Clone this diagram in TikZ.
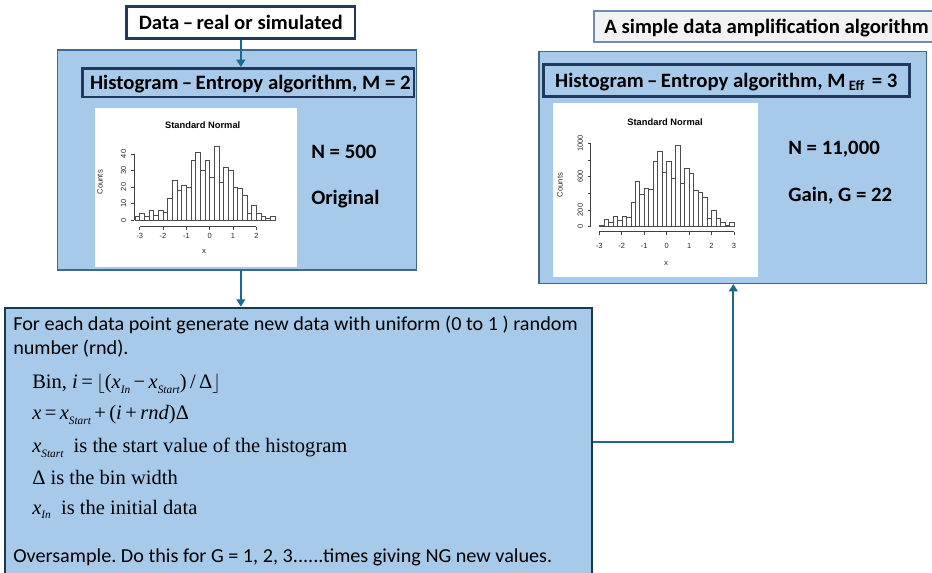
\documentclass[tikz,border=0pt]{standalone}
\usepackage{fontspec}
\setmainfont[FakeStretch=1.02]{Carlito}
\newfontfamily\tms{Liberation Serif}
\newfontfamily\plotfont{Liberation Sans}
\usetikzlibrary{fit,arrows.meta}
\definecolor{boxfill}{RGB}{167,201,234}
\definecolor{bigborder}{RGB}{64,104,136}
\definecolor{navy}{RGB}{31,58,92}
\definecolor{algoborder}{RGB}{23,56,77}
\definecolor{arrowc}{RGB}{31,105,144}
\definecolor{greyfill}{RGB}{242,242,242}
\definecolor{greyborder}{RGB}{110,139,181}
\newcommand{\sbi}[1]{\raisebox{-3.2pt}{\fontsize{8.5}{9}\selectfont\itshape #1}}
\frenchspacing
\begin{document}
\begin{tikzpicture}[x=0.75pt,y=-0.75pt,
  bigbox/.style={draw=bigborder, fill=boxfill, line width=1pt, inner sep=0pt},
  titlebox/.style={draw=navy, fill=boxfill, line width=1.9pt, inner sep=0pt},
  databox/.style={draw=navy, fill=white, line width=1.9pt, inner sep=0pt},
  ttxt/.style={inner sep=0pt, anchor=center, text height=9.85pt, text depth=0pt,
    font=\bfseries\fontsize{15.3}{18}\selectfont},
  algobox/.style={draw=algoborder, fill=boxfill, line width=1.5pt, inner sep=0pt},
  plotbg/.style={fill=white, draw=none, inner sep=0pt},
  txt/.style={inner sep=0pt, anchor=base west, font=\fontsize{14.85}{18}\selectfont},
  btxt/.style={inner sep=0pt, anchor=base west, font=\bfseries\fontsize{15.3}{18}\selectfont},
  mtxt/.style={inner sep=0pt, anchor=base west, font=\tms\fontsize{15.4}{18}\selectfont},
  arr/.style={draw=arrowc, line width=1.5pt, -{Triangle[length=5.5pt,width=6.5pt]}},
  bar/.style={draw=black!70, fill=white, line width=0.35pt},
  axis/.style={draw=black!75, line width=0.4pt},
  ptick/.style={font=\plotfont\fontsize{5.6}{6}\selectfont, inner sep=0pt, text=black!85},
  ptitle/.style={font=\plotfont\bfseries\fontsize{7}{8}\selectfont, inner sep=0pt, anchor=base},
  plabel/.style={font=\plotfont\fontsize{5.8}{6}\selectfont, inner sep=0pt, text=black!85}
]
\clip (0,0) rectangle (932,573);

% ---------- top left ----------
\node[databox, fit={(126.7,6.7) (355,38.3)}] (data) {};
\node[ttxt] (datat) at (data.center) {Data\,--\,real or simulated};
\node[bigbox, fit={(57.7,50) (416.7,270)}] (histL) {};
\node[titlebox, fit={(82.7,68.3) (414,97)}] (htitleL) {};
\node[ttxt] (htitleLt) at ([xshift=1.5pt]htitleL.center) {Histogram\,--\,Entropy algorithm, M = 2};
\node[plotbg, fit={(95,107.7) (297,267)}] (imgL) {};

% left histogram
\node[ptitle] (ttlL) at (202.7,129) {Standard Normal};
\foreach \c [count=\i from 0] in {2,4,2,6,3,6,5,13,24,18,21,20,36,41,30,36,26,45,23,32,30,20,19,15,4,9,4,2,1,2}
  \draw[bar] ({135.03+4.666*\i},220) rectangle ++(4.666,{-1.65*\c});
\draw[axis] (139.7,226.7) -- (256.3,226.7);
\foreach \v [count=\k] in {-3,-2,-1,0,1,2} {
  \draw[axis] ({209.69+23.33*\v},226.7) -- ++(0,3);
  \node[ptick] (lxl\k) at ({209.69+23.33*\v},236) {\v};
}
\draw[axis] (134,220) -- (134,154);
\foreach \c [count=\k] in {0,10,20,30,40} {
  \draw[axis] (134,{220-1.65*\c}) -- ++(-3,0);
  \node[ptick, rotate=90] (lyl\k) at (123.5,{220-1.65*\c}) {\c};
}
\node[plabel, rotate=90] (cntL) at (100,182.3) {Counts};
\node[plabel] (xL) at (204,251.7) {x};

\node[btxt] (n500) at (311,158.3) {N = 500};
\node[btxt] (origtxt) at (311,205) {Original};

% ---------- top right ----------
\node[fill=greyfill, draw=greyborder, line width=0.8pt, inner sep=0pt, fit={(594,11) (960,42)}] (simple) {};
\node[btxt] (simpletxt) at (604,33.5) {A simple data amplification algorithm};
\node[bigbox, fit={(539,51.7) (926.7,283.3)}] (amp) {};
\node[titlebox, fit={(543.3,64.3) (909.3,96.7)}] (htitleR) {};
\node[ttxt] (htitleRt) at (htitleR.center) {Histogram\,--\,Entropy algorithm, M\,\textsubscript{Eff}\,\,= 3};
\node[plotbg, fit={(553.3,103.3) (758.3,276.7)}] (imgR) {};

% right histogram
\node[ptitle] (ttlR) at (665,126) {Standard Normal};
\foreach \c [count=\i from 0] in {20,90,50,130,80,130,110,290,540,390,460,450,790,900,650,790,580,980,520,700,640,440,410,350,100,200,100,50,20,50}
  \draw[bar] ({599.3+4.49*\i},226.7) rectangle ++(4.49,{-0.0833*\c});
\draw[axis] (599.3,231.7) -- (734,231.7);
\foreach \v [count=\k] in {-3,-2,-1,0,1,2,3} {
  \draw[axis] ({666.65+22.45*\v},231.7) -- ++(0,3);
  \node[ptick] (rxl\k) at ({666.65+22.45*\v},245.7) {\v};
}
\draw[axis] (590.7,226.7) -- (590.7,143.3);
\foreach \c in {0,200,400,600,800,1000}
  \draw[axis] (590.7,{226.7-0.0833*\c}) -- ++(-3,0);
\foreach \c [count=\k] in {0,200,600,1000}
  \node[ptick, rotate=90] (ryl\k) at (580.2,{226.7-0.0833*\c}) {\c};
\node[plabel, rotate=90] (cntR) at (560,185) {Counts};
\node[plabel] (xR) at (666,263.3) {x};

\node[btxt] (n11k) at (788,155) {N = 11,000};
\node[btxt] (gain) at (788,201.7) {Gain, G = 22};

% ---------- bottom box ----------
\node[algobox, fit={(5,307.7) (592.3,577)}] (algo) {};
\node[txt] (l1) at (13,331) {For each data point generate new data with uniform (0 to 1 ) random};
\node[txt] (l2) at (13,355) {number (rnd).};
\node[mtxt] (f1) at (32,389) {Bin, \textit{i}\,=\,$\bigl\lfloor$(\textit{x}\sbi{In}\,−\,\textit{x}\sbi{Start})\,/\,Δ$\bigr\rfloor$};
\node[mtxt] (f2) at (32,420) {\textit{x}\,=\,\textit{x}\sbi{Start}\,+\,(\textit{i}\,+\,\textit{rnd})Δ};
\node[mtxt] (f3) at (32,453) {\textit{x}\sbi{Start}\ \ is the start value of the histogram};
\node[mtxt] (f4) at (32,484) {Δ is the bin width};
\node[mtxt] (f5) at (32,514) {\textit{x}\sbi{In}\ \ is the initial data};
\node[txt] (l3) at (13,562) {Oversample. Do this for G = 1, 2, 3......times giving NG new values.};

% ---------- connectors ----------
\coordinate (ampx) at (733.3,0);
\draw[arr] (data.south) -- (data.south |- htitleL.north);
\draw[arr] (histL.south -| data.south) -- (data.south |- algo.north);
\draw[arr] (algo.east) -| (ampx |- amp.south);
\end{tikzpicture}
\end{document}
